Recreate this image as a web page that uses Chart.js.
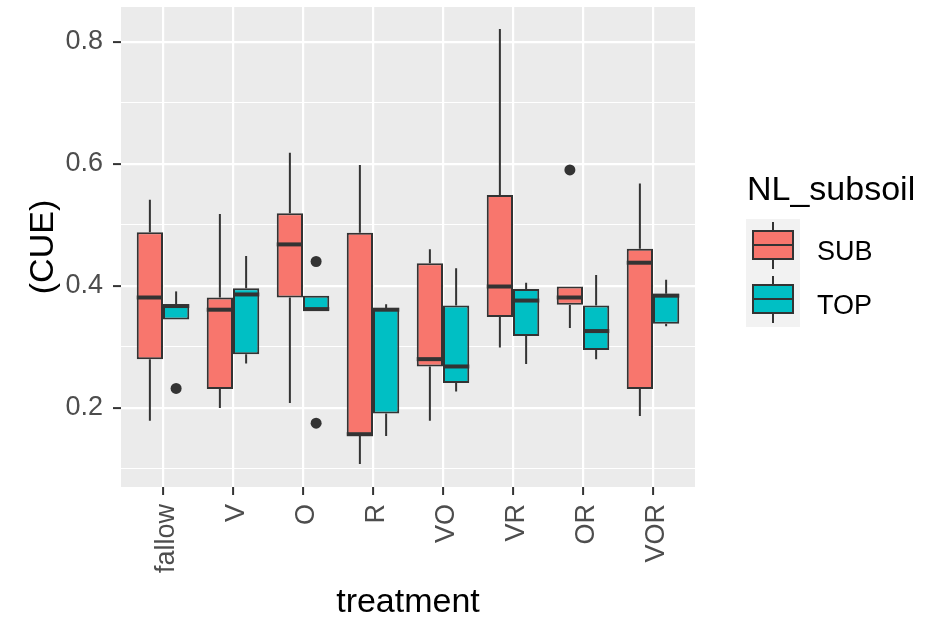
<!DOCTYPE html>
<html>
<head>
<meta charset="utf-8">
<script src="https://cdn.jsdelivr.net/npm/chart.js@4"></script>
<style>
  html, body { margin: 0; padding: 0; background: #ffffff; }
  #wrap { width: 928px; height: 620px; }
</style>
</head>
<body>
<div id="wrap"><canvas id="cue-chart" width="928" height="620"></canvas></div>
<script>
// treatment levels along the x axis
const categories = ['fallow', 'V', 'O', 'R', 'VO', 'VR', 'OR', 'VOR'];

// SUB boxes: whisker ends, hinges, medians
const subMin = [0.179, 0.200, 0.208, 0.108, 0.179, 0.299, 0.331, 0.187];
const subQ1  = [0.280, 0.231, 0.381, 0.156, 0.268, 0.349, 0.369, 0.231];
const subMed = [0.381, 0.361, 0.468, 0.157, 0.280, 0.399, 0.381, 0.438];
const subQ3  = [0.488, 0.381, 0.519, 0.487, 0.437, 0.549, 0.399, 0.461];
const subMax = [0.541, 0.518, 0.618, 0.598, 0.460, 0.821, 0.399, 0.568];
const subOut = [[], [], [], [], [], [], [0.590], []];

// TOP boxes
const topMin = [0.345, 0.273, 0.361, 0.154, 0.227, 0.272, 0.280, 0.334];
const topQ1  = [0.345, 0.288, 0.361, 0.191, 0.241, 0.318, 0.295, 0.338];
const topMed = [0.367, 0.386, 0.362, 0.361, 0.268, 0.376, 0.326, 0.384];
const topQ3  = [0.370, 0.396, 0.384, 0.364, 0.368, 0.395, 0.368, 0.387];
const topMax = [0.391, 0.449, 0.384, 0.370, 0.429, 0.405, 0.418, 0.410];
const topOut = [[0.232], [], [0.440, 0.175], [], [], [], [], []];

// y gridlines (every 0.1) and the labelled ones
const yGrid = [0.1, 0.2, 0.3, 0.4, 0.5, 0.6, 0.7, 0.8];
const yLabelled = [0.2, 0.4, 0.6, 0.8];

const series = [
  { label: 'SUB', color: '#F8766D', min: subMin, q1: subQ1, med: subMed, q3: subQ3, max: subMax, out: subOut },
  { label: 'TOP', color: '#00BFC4', min: topMin, q1: topQ1, med: topMed, q3: topQ3, max: topMax, out: topOut }
];

const FONT = "'Liberation Sans', Arial, Helvetica, sans-serif";
const INK = '#333333';

const isLabelled = v => yLabelled.some(l => Math.abs(l - v) < 1e-9);

// panel background, whiskers, medians, outliers and the legend
const boxPlugin = {
  id: 'boxPlugin',
  beforeDraw(chart) {
    const { ctx, chartArea: a } = chart;
    ctx.save();
    ctx.fillStyle = '#ffffff';
    ctx.fillRect(0, 0, chart.width, chart.height);
    ctx.fillStyle = '#EBEBEB';
    ctx.fillRect(a.left, a.top, a.right - a.left, a.bottom - a.top);
    ctx.restore();
  },
  beforeDatasetsDraw(chart) {
    const { ctx, scales: { y } } = chart;
    ctx.save();
    ctx.strokeStyle = INK;
    ctx.lineWidth = 2;
    series.forEach((s, di) => {
      chart.getDatasetMeta(di).data.forEach((bar, i) => {
        ctx.beginPath();
        ctx.moveTo(bar.x, y.getPixelForValue(s.q3[i]));
        ctx.lineTo(bar.x, y.getPixelForValue(s.max[i]));
        ctx.moveTo(bar.x, y.getPixelForValue(s.q1[i]));
        ctx.lineTo(bar.x, y.getPixelForValue(s.min[i]));
        ctx.stroke();
      });
    });
    ctx.restore();
  },
  afterDatasetsDraw(chart) {
    const { ctx, scales: { y } } = chart;
    ctx.save();
    series.forEach((s, di) => {
      chart.getDatasetMeta(di).data.forEach((bar, i) => {
        const half = bar.width / 2;
        const my = y.getPixelForValue(s.med[i]);
        ctx.strokeStyle = INK;
        ctx.lineWidth = 4;
        ctx.beginPath();
        ctx.moveTo(bar.x - half, my);
        ctx.lineTo(bar.x + half, my);
        ctx.stroke();
        ctx.fillStyle = INK;
        s.out[i].forEach(v => {
          ctx.beginPath();
          ctx.arc(bar.x, y.getPixelForValue(v), 5.5, 0, Math.PI * 2);
          ctx.fill();
        });
      });
    });
    ctx.restore();
  },
  afterDraw(chart) {
    const { ctx } = chart;
    ctx.save();
    ctx.fillStyle = '#000000';
    ctx.font = '34px ' + FONT;
    ctx.textBaseline = 'alphabetic';
    ctx.fillText('NL_subsoil', 747, 200);

    const keyX = 746, keyTop = 219, keySize = 54;
    series.forEach((s, k) => {
      const top = keyTop + k * keySize;
      ctx.fillStyle = '#F2F2F2';
      ctx.fillRect(keyX, top, keySize, keySize);
      const cx = keyX + keySize / 2;
      ctx.strokeStyle = INK;
      ctx.lineWidth = 2;
      ctx.beginPath();
      ctx.moveTo(cx, top + 3); ctx.lineTo(cx, top + 12);
      ctx.moveTo(cx, top + 40); ctx.lineTo(cx, top + 50);
      ctx.stroke();
      ctx.fillStyle = s.color;
      ctx.fillRect(keyX + 7, top + 12, keySize - 14, 28);
      ctx.strokeRect(keyX + 7, top + 12, keySize - 14, 28);
      ctx.beginPath();
      ctx.moveTo(keyX + 7, top + 26); ctx.lineTo(keyX + keySize - 7, top + 26);
      ctx.stroke();
      ctx.fillStyle = '#000000';
      ctx.font = '27px ' + FONT;
      ctx.fillText(s.label, 817, top + 41);
    });
    ctx.restore();
  }
};

const ctx = document.getElementById('cue-chart').getContext('2d');
new Chart(ctx, {
  type: 'bar',
  data: {
    datasets: series.map(s => ({
      label: s.label,
      data: categories.map((c, i) => ({ x: i, y: [s.q1[i], s.q3[i]] })),
      backgroundColor: s.color,
      borderColor: INK,
      borderWidth: 2,
      borderSkipped: false,
      categoryPercentage: 0.75,
      barPercentage: 1.0
    }))
  },
  plugins: [boxPlugin],
  options: {
    responsive: false,
    animation: false,
    layout: { padding: { left: 0, right: 233, top: 7, bottom: 0 } },
    plugins: { legend: { display: false }, tooltip: { enabled: false } },
    scales: {
      x: {
        type: 'linear',
        offset: false,
        min: -0.6,
        max: 7.6,
        afterBuildTicks: scale => { scale.ticks = categories.map((c, i) => ({ value: i })); },
        afterFit: scale => { scale.height = 133; scale.paddingLeft = 0; scale.paddingRight = 0; },
        border: { display: false },
        grid: { offset: false, color: '#ffffff', lineWidth: 2.2, tickColor: INK, tickLength: 8, tickWidth: 2 },
        ticks: {
          autoSkip: false,
          minRotation: 90,
          maxRotation: 90,
          padding: 9,
          labelOffset: 4,
          color: '#4D4D4D',
          font: { family: FONT, size: 27 },
          callback: v => categories[v]
        },
        title: {
          display: true,
          text: 'treatment',
          color: '#000000',
          font: { family: FONT, size: 34, lineHeight: 1 },
          padding: { top: 0, bottom: 0 }
        }
      },
      y: {
        min: 0.0705,
        max: 0.857,
        afterBuildTicks: scale => { scale.ticks = yGrid.map(v => ({ value: v })); },
        afterFit: scale => { scale.width = 121; scale.paddingTop = 0; scale.paddingBottom = 0; },
        border: { display: false },
        grid: {
          color: '#ffffff',
          lineWidth: c => isLabelled(c.tick.value) ? 2.2 : 1.1,
          tickColor: c => isLabelled(c.tick.value) ? INK : 'rgba(0,0,0,0)',
          tickLength: 8,
          tickWidth: 2
        },
        ticks: {
          padding: 10,
          color: '#4D4D4D',
          font: { family: FONT, size: 27 },
          callback: v => isLabelled(v) ? v.toFixed(1) : ''
        },
        title: {
          display: true,
          text: '(CUE)',
          color: '#000000',
          font: { family: FONT, size: 34, lineHeight: 1.2 },
          padding: { top: 23, bottom: 0 }
        }
      }
    }
  }
});
</script>
</body>
</html>
